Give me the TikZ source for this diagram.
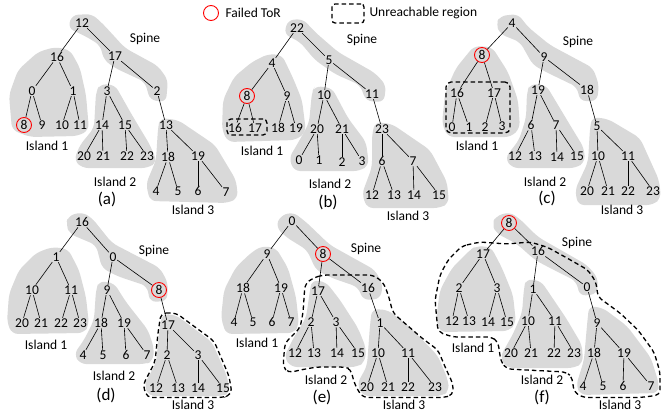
\documentclass[tikz,border=0pt]{standalone}
\usepackage{fontspec}
\setmainfont{Carlito}
\tikzset{
  tor/.style={inner sep=0.6pt, font=\fontsize{13.5}{16}\selectfont},
  failed/.style={circle, draw=red, line width=0.9pt, minimum size=15pt, inner sep=0pt, font=\fontsize{13.5}{16}\selectfont},
  link/.style={line width=0.6pt},
  island/.style={fill=black!15, rounded corners=6pt},
  unreach/.style={draw, line width=1.3pt, dash pattern=on 4.5pt off 3pt, rounded corners=5pt},
  txt/.style={font=\fontsize{13.5}{16}\selectfont},
  panel/.style={font=\fontsize{17}{20}\selectfont},
}
\begin{document}
\begin{tikzpicture}[x=1pt, y=-1pt]
    \useasboundingbox (0,0) rectangle (662,413);
    % legend
    \node[failed] (legtor) at (211,13) {};
    \node[txt, anchor=west] (legtortxt) at (222,13) {Failed ToR};
    \node[unreach, rounded corners=3pt, minimum width=32pt, minimum height=19pt] (legbox) at (348,13.5) {};
    \node[txt, anchor=west] (legboxtxt) at (366,13) {Unreachable region};

    % ---------- (a) ----------
    \fill[island] (72,15) -- (92,14) -- (103,24) -- (125,48) -- (158,66) -- (168,80) -- (166,102) -- (150,100)
        -- (145,82) -- (115,68) -- (104,60) -- (100,45) -- (85,36) -- (68,28) -- cycle;
    \fill[island] (55,47) -- (70,50) -- (80,68) -- (86,95) -- (89,130) -- (78,136) -- (30,137) -- (12,130)
        -- (9,95) -- (18,70) -- (38,52) -- cycle;
    \fill[island] (100,84) -- (115,85) -- (132,115) -- (150,145) -- (157,162) -- (148,168) -- (82,168)
        -- (74,160) -- (80,145) -- (94,128) -- (96,92) -- cycle;
    \fill[island] (160,118) -- (178,120) -- (215,145) -- (236,180) -- (238,198) -- (228,203) -- (150,201)
        -- (146,184) -- (156,160) -- (158,128) -- cycle;
    \foreach \n/\x/\y in {12/82/23, 16/57/57, 17/115/56, 0/32/91, 1/73/91, 3/107/91, 2/157/91, 9/42/125,
        10/62/125, 11/80/125, 14/102/125, 15/125/125, 13/166/125, 20/84/156, 21/103/156, 22/127/156,
        23/147/156, 18/168/157, 19/198/156, 4/156/191, 5/178/191, 6/198/191, 7/226/192}
        \node[tor] (a\n) at (\x,\y) {\n};
    \node[failed] (a8) at (24,125) {8};
    \foreach \u/\v in {12/16, 12/17, 16/0, 16/1, 0/8, 0/9, 1/10, 1/11, 17/3, 17/2, 3/14, 3/15, 14/20,
        14/21, 15/22, 15/23, 2/13, 13/18, 13/19, 18/4, 18/5, 19/6, 19/7}
        \draw[link] (a\u) -- (a\v);
    \node[txt] (aspine) at (145,39) {Spine};
    \node[txt] (aisl1) at (47,146) {Island 1};
    \node[txt] (aisl2) at (115,182) {Island 2};
    \node[txt] (aisl3) at (193,210) {Island 3};
    \node[panel] (acap) at (107,199) {(a)};

    % ---------- (b) ----------
    \fill[island] (288,20) -- (303,19) -- (315,32) -- (338,52) -- (375,73) -- (386,85) -- (384,102) -- (366,101)
        -- (360,85) -- (335,74) -- (315,60) -- (300,42) -- (284,34) -- cycle;
    \fill[island] (268,54) -- (282,55) -- (293,78) -- (302,100) -- (306,132) -- (296,140) -- (228,142)
        -- (222,130) -- (223,100) -- (234,77) -- (252,62) -- cycle;
    \fill[island] (315,86) -- (332,88) -- (348,118) -- (366,142) -- (369,165) -- (360,171) -- (294,171)
        -- (289,158) -- (298,143) -- (309,123) -- (312,92) -- cycle;
    \fill[island] (375,122) -- (392,124) -- (430,150) -- (447,182) -- (449,203) -- (440,208) -- (367,208)
        -- (362,194) -- (372,167) -- (372,135) -- cycle;
    \node[unreach, rounded corners=4pt, minimum width=40pt, minimum height=16pt] (bbox) at (247,127) {};
    \foreach \n/\x/\y in {22/297/28, 4/272/63, 5/329/60, 9/287/96, 10/324/95, 11/372/94, 16/235/128,
        17/255/128, 18/278/128, 19/296/128, 20/317/129, 21/342/129, 23/382/129, 0/299/160, 1/319/160,
        2/342/162, 3/362/161, 6/382/161, 7/413/161, 12/372/195, 13/394/195, 14/414/195, 15/439/195}
        \node[tor] (b\n) at (\x,\y) {\n};
    \node[failed] (b8) at (247,96) {8};
    \foreach \u/\v in {22/4, 22/5, 4/8, 4/9, 8/16, 8/17, 9/18, 9/19, 5/10, 5/11, 10/20, 10/21, 20/0,
        20/1, 21/2, 21/3, 11/23, 23/6, 23/7, 6/12, 6/13, 7/14, 7/15}
        \draw[link] (b\u) -- (b\v);
    \node[txt] (bspine) at (362,40) {Spine};
    \node[txt] (bisl1) at (262,151) {Island 1};
    \node[txt] (bisl2) at (330,184) {Island 2};
    \node[txt] (bisl3) at (408,216) {Island 3};
    \node[panel] (bcap) at (328,202) {(b)};

    % ---------- (c) ----------
    \fill[island] (500,16) -- (518,14) -- (528,27) -- (550,45) -- (593,68) -- (599,85) -- (597,101) -- (580,101)
        -- (577,87) -- (548,73) -- (533,65) -- (520,42) -- (500,34) -- (496,24) -- cycle;
    \fill[island] (474,46) -- (492,47) -- (508,72) -- (518,100) -- (520,128) -- (511,137) -- (448,137)
        -- (442,124) -- (445,93) -- (456,68) -- cycle;
    \fill[island] (530,84) -- (546,85) -- (570,125) -- (584,148) -- (585,162) -- (576,168) -- (512,168)
        -- (505,158) -- (519,140) -- (526,118) -- (527,92) -- cycle;
    \fill[island] (592,117) -- (608,119) -- (640,138) -- (659,180) -- (661,198) -- (653,205) -- (578,205)
        -- (575,190) -- (588,162) -- (590,128) -- cycle;
    \node[unreach, minimum width=64pt, minimum height=51pt] (cbox) at (478,107.5) {};
    \foreach \n/\x/\y in {4/512/23, 9/544/57, 16/457/93, 17/494/93, 19/538/90, 18/587/90, 0/452/127,
        1/469/127, 2/485/127, 3/502/126, 6/531/125, 7/556/125, 5/597/126, 12/515/156, 13/535/156,
        14/557/157, 15/577/156, 10/598/156, 11/628/156, 20/587/191, 21/608/191, 22/628/191, 23/653/191}
        \node[tor] (c\n) at (\x,\y) {\n};
    \node[failed] (c8) at (482,55) {8};
    \foreach \u/\v in {4/8, 4/9, 8/16, 8/17, 16/0, 16/1, 17/2, 17/3, 9/19, 9/18, 19/6, 19/7, 6/12,
        6/13, 7/14, 7/15, 18/5, 5/10, 5/11, 10/20, 10/21, 11/22, 11/23}
        \draw[link] (c\u) -- (c\v);
    \node[txt] (cspine) at (578,42) {Spine};
    \node[txt] (cisl1) at (477,146) {Island 1};
    \node[txt] (cisl2) at (545,182) {Island 2};
    \node[txt] (cisl3) at (622,210) {Island 3};
    \node[panel] (ccap) at (547,198) {(c)};

    % ---------- (d) ----------
    \fill[island] (68,216) -- (82,212) -- (92,218) -- (112,243) -- (160,268) -- (168,283) -- (167,301) -- (150,302)
        -- (147,286) -- (117,276) -- (102,268) -- (96,245) -- (70,234) -- (66,225) -- cycle;
    \fill[island] (52,247) -- (68,249) -- (79,270) -- (86,297) -- (89,325) -- (84,333) -- (12,334)
        -- (7,322) -- (9,294) -- (19,270) -- (36,253) -- cycle;
    \fill[island] (99,281) -- (114,283) -- (126,302) -- (148,330) -- (154,348) -- (153,361) -- (146,364)
        -- (80,364) -- (74,354) -- (84,340) -- (94,320) -- (96,290) -- cycle;
    \fill[island] (162,314) -- (176,315) -- (212,342) -- (227,376) -- (230,393) -- (222,396) -- (149,396)
        -- (144,385) -- (156,363) -- (159,333) -- cycle;
    \draw[unreach] (161,313) -- (176,313) -- (214,341) -- (229,376) -- (232,394) -- (223,397.5) -- (147,397.5)
        -- (143,385) -- (155,362) -- (158,333) -- cycle;
    \foreach \n/\x/\y in {16/82/222, 1/56/257, 0/113/257, 10/32/290, 11/71/290, 9/107/290, 20/22/323,
        21/41/323, 22/61/323, 23/80/323, 18/101/323, 19/124/323, 17/168/325, 4/83/355, 5/103/355,
        6/126/355, 7/147/355, 2/167/355, 3/198/355, 12/156/388, 13/178/388, 14/198/388, 15/223/388}
        \node[tor] (d\n) at (\x,\y) {\n};
    \node[failed] (d8) at (159,290) {8};
    \foreach \u/\v in {16/1, 16/0, 1/10, 1/11, 10/20, 10/21, 11/22, 11/23, 0/9, 0/8, 9/18, 9/19, 18/4,
        18/5, 19/6, 19/7, 8/17, 17/2, 17/3, 2/12, 2/13, 3/14, 3/15}
        \draw[link] (d\u) -- (d\v);
    \node[txt] (dspine) at (154,251) {Spine};
    \node[txt] (disl1) at (46,345) {Island 1};
    \node[txt] (disl2) at (114,376) {Island 2};
    \node[txt] (disl3) at (193,404.5) {Island 3};
    \node[panel] (dcap) at (106,395) {(d)};

    % ---------- (e) ----------
    \fill[island] (280,216) -- (293,212) -- (306,222) -- (330,245) -- (375,270) -- (383,285) -- (380,299) -- (363,300)
        -- (358,287) -- (332,278) -- (316,270) -- (307,250) -- (286,237) -- (276,227) -- cycle;
    \fill[island] (262,246) -- (276,248) -- (288,268) -- (296,297) -- (299,325) -- (294,333) -- (226,334)
        -- (221,318) -- (224,290) -- (236,267) -- (252,252) -- cycle;
    \fill[island] (312,280) -- (326,282) -- (340,300) -- (358,328) -- (366,348) -- (365,362) -- (357,367)
        -- (291,367) -- (284,357) -- (294,337) -- (306,318) -- (310,290) -- cycle;
    \fill[island] (372,309) -- (388,310) -- (410,327) -- (438,356) -- (448,380) -- (449,391) -- (442,396)
        -- (363,396) -- (357,384) -- (367,366) -- (370,325) -- cycle;
    \draw[unreach] (313,278) -- (323,275) -- (373,275) -- (383,282) -- (388,294) -- (393,313) -- (423,339)
        -- (438,350) -- (446,369) -- (453,384) -- (453,395) -- (444,397.5) -- (363,397.5) -- (357,389)
        -- (353,379) -- (351,369) -- (344,367) -- (317,367) -- (300,370) -- (288,373) -- (283,366)
        -- (285,343) -- (300,328) -- (303,313) -- (305,284) -- cycle;
    \foreach \n/\x/\y in {0/292/221, 9/267/254, 18/243/288, 19/281/288, 17/318/291, 16/368/288, 4/234/322,
        5/253/322, 6/272/322, 7/291/322, 2/311/322, 3/336/322, 1/380/323, 12/295/353, 13/314/353,
        14/337/353, 15/358/353, 10/378/353, 11/408/353, 20/367/387, 21/388/387, 22/408/387, 23/435/387}
        \node[tor] (e\n) at (\x,\y) {\n};
    \node[failed] (e8) at (323,254) {8};
    \foreach \u/\v in {0/9, 0/8, 9/18, 9/19, 18/4, 18/5, 19/6, 19/7, 8/17, 8/16, 17/2, 17/3, 2/12,
        2/13, 3/14, 3/15, 16/1, 1/10, 1/11, 10/20, 10/21, 11/22, 11/23}
        \draw[link] (e\u) -- (e\v);
    \node[txt] (espine) at (366,249) {Spine};
    \node[txt] (eisl1) at (257,343) {Island 1};
    \node[txt] (eisl2) at (326,380) {Island 2};
    \node[txt] (eisl3) at (404,404.5) {Island 3};
    \node[panel] (ecap) at (322,397) {(e)};

    % ---------- (f) ----------
    \fill[island] (496,216) -- (510,212) -- (521,220) -- (538,237) -- (587,265) -- (598,278) -- (597,294) -- (580,296)
        -- (576,281) -- (550,268) -- (535,260) -- (517,244) -- (496,233) -- (492,224) -- cycle;
    \fill[island] (476,246) -- (491,247) -- (502,268) -- (513,295) -- (516,323) -- (509,331) -- (440,332)
        -- (436,320) -- (440,290) -- (452,268) -- (470,250) -- cycle;
    \fill[island] (526,279) -- (541,281) -- (566,318) -- (582,345) -- (583,363) -- (574,368) -- (507,368)
        -- (500,357) -- (513,334) -- (522,313) -- (524,288) -- cycle;
    \fill[island] (589,306) -- (603,308) -- (627,326) -- (651,358) -- (659,384) -- (658,393) -- (581,395)
        -- (576,386) -- (584,360) -- (587,325) -- cycle;
    \draw[unreach] (462,246) -- (480,242) -- (507,244) -- (530,242) -- (547,247) -- (567,258) -- (588,270)
        -- (596,282) -- (598,297) -- (620,313) -- (638,330) -- (654,352) -- (660,372) -- (660,395)
        -- (640,397.5) -- (583,397.5) -- (574,392) -- (572,377) -- (566,372) -- (507,369) -- (501,362)
        -- (498,342) -- (492,337) -- (453,337) -- (438,332) -- (435,300) -- (440,275) -- (448,260) -- cycle;
    \foreach \n/\x/\y in {17/483/254, 16/538/251, 2/459/288, 3/497/288, 1/533/289, 0/587/287, 12/452/321,
        13/469/321, 14/488/322, 15/507/322, 10/528/321, 11/555/321, 9/597/323, 20/511/353, 21/531/353,
        22/554/353, 23/574/353, 18/594/353, 19/624/353, 4/583/386, 5/603/386, 6/623/386, 7/651/386}
        \node[tor] (f\n) at (\x,\y) {\n};
    \node[failed] (f8) at (509,223) {8};
    \foreach \u/\v in {8/17, 8/16, 17/2, 17/3, 2/12, 2/13, 3/14, 3/15, 16/1, 16/0, 1/10, 1/11, 10/20,
        10/21, 11/22, 11/23, 0/9, 9/18, 9/19, 18/4, 18/5, 19/6, 19/7}
        \draw[link] (f\u) -- (f\v);
    \node[txt] (fspine) at (577,243) {Spine};
    \node[txt] (fisl1) at (473,348) {Island 1};
    \node[txt] (fisl2) at (542,380) {Island 2};
    \node[txt] (fisl3) at (620,404.5) {Island 3};
    \node[panel] (fcap) at (542,397) {(f)};
\end{tikzpicture}
\end{document}
